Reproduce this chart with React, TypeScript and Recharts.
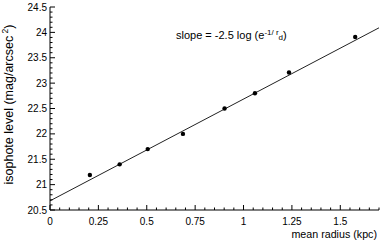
import React from "react";
import {
  ComposedChart,
  Line,
  Scatter,
  XAxis,
  YAxis,
  Label,
} from "recharts";

// measured isophotes
const radius = [0.206, 0.36, 0.505, 0.687, 0.902, 1.059, 1.235, 1.577];
const level = [21.19, 21.4, 21.7, 22.0, 22.5, 22.8, 23.21, 23.91];

// fitted line end points
const fitRadius = [0, 1.7];
const fitLevel = [20.68, 24.09];

const xMajorTicks = [0, 0.25, 0.5, 0.75, 1, 1.25, 1.5];
const yMajorTicks = [20.5, 21, 21.5, 22, 22.5, 23, 23.5, 24, 24.5];

// minor ticks every 0.05 / 0.1
const xTicks = Array.from({ length: 35 }, (_, i) => Math.round(i * 5) / 100);
const yTicks = Array.from({ length: 41 }, (_, i) => (205 + i) / 10);

const FONT = "'Liberation Sans', Arial, Helvetica, sans-serif";

const points = radius.map((x, i) => ({ x, y: level[i] }));
const fit = fitRadius.map((x, i) => ({ x, y: fitLevel[i] }));

const isMajor = (v: number, list: number[]) =>
  list.some((m) => Math.abs(m - v) < 1e-6);

function BottomTick({ x, y, payload }: any) {
  const major = isMajor(payload.value, xMajorTicks);
  return (
    <g>
      <line x1={x} x2={x} y1={y} y2={y - (major ? 5 : 2.5)} stroke="#000" />
      {major && (
        <text x={x} y={y + 15} textAnchor="middle" fontSize={10} fontFamily={FONT} fill="#000">
          {String(payload.value)}
        </text>
      )}
    </g>
  );
}

function TopTick({ x, y, payload }: any) {
  const major = isMajor(payload.value, xMajorTicks);
  return <line x1={x} x2={x} y1={y} y2={y + (major ? 5 : 2.5)} stroke="#000" />;
}

function LeftTick({ x, y, payload }: any) {
  const major = isMajor(payload.value, yMajorTicks);
  return (
    <g>
      <line x1={x} x2={x + (major ? 5 : 2.5)} y1={y} y2={y} stroke="#000" />
      {major && (
        <text x={x - 3} y={y + 3.6} textAnchor="end" fontSize={10} fontFamily={FONT} fill="#000">
          {String(payload.value)}
        </text>
      )}
    </g>
  );
}

function RightTick({ x, y, payload }: any) {
  const major = isMajor(payload.value, yMajorTicks);
  return <line x1={x} x2={x - (major ? 5 : 2.5)} y1={y} y2={y} stroke="#000" />;
}

function YTitle({ viewBox }: any) {
  const cy = viewBox.y + viewBox.height / 2 - 4;
  return (
    <text
      x={12.5}
      y={cy}
      transform={`rotate(-90 12.5 ${cy})`}
      textAnchor="middle"
      fontSize={12.5}
      fontFamily={FONT}
      fill="#000"
    >
      isophote level (mag/arcsec
      <tspan fontSize={8.5} dy={-5}> 2</tspan>
      <tspan dy={5}>)</tspan>
    </text>
  );
}

function Dot({ cx, cy }: any) {
  return <circle cx={cx} cy={cy} r={2.2} fill="#000" />;
}

export default function App() {
  return (
    <div style={{ position: "absolute", left: 0, top: 0, width: 381, height: 240, background: "#fff" }}>
      <ComposedChart
        width={381}
        height={240}
        margin={{ top: 7, right: 2, bottom: 0, left: 0 }}
      >
        <XAxis
          xAxisId="main"
          dataKey="x"
          type="number"
          domain={[0, 1.7]}
          ticks={xTicks}
          interval={0}
          tickLine={false}
          tickSize={0}
          tickMargin={0}
          tick={<BottomTick />}
          axisLine={{ stroke: "#000" }}
          height={30}
        >
          <Label
            value="mean radius (kpc)"
            position="insideBottomRight"
            offset={2}
            fontSize={10.7}
            fontFamily={FONT}
            fill="#000"
          />
        </XAxis>
        <XAxis
          xAxisId="top"
          orientation="top"
          dataKey="x"
          type="number"
          domain={[0, 1.7]}
          ticks={xTicks}
          interval={0}
          tickLine={false}
          tickSize={0}
          tickMargin={0}
          tick={<TopTick />}
          axisLine={{ stroke: "#000" }}
          height={0}
        />
        <YAxis
          yAxisId="main"
          type="number"
          domain={[20.5, 24.5]}
          ticks={yTicks}
          interval={0}
          tickLine={false}
          tickSize={0}
          tickMargin={0}
          tick={<LeftTick />}
          axisLine={{ stroke: "#000" }}
          width={50}
        >
          <Label content={<YTitle />} />
        </YAxis>
        <YAxis
          yAxisId="right"
          orientation="right"
          type="number"
          domain={[20.5, 24.5]}
          ticks={yTicks}
          interval={0}
          tickLine={false}
          tickSize={0}
          tickMargin={0}
          tick={<RightTick />}
          axisLine={{ stroke: "#000" }}
          width={0}
        />
        <Line
          xAxisId="main"
          yAxisId="main"
          data={fit}
          dataKey="y"
          stroke="#222"
          strokeWidth={1}
          dot={false}
          isAnimationActive={false}
        />
        <Scatter
          xAxisId="main"
          yAxisId="main"
          data={points}
          dataKey="y"
          shape={<Dot />}
          isAnimationActive={false}
        />
      </ComposedChart>
      <div
        style={{
          position: "absolute",
          left: 176,
          top: 29,
          fontFamily: FONT,
          fontSize: 11,
          lineHeight: "13px",
          whiteSpace: "nowrap",
          color: "#000",
        }}
      >
        slope = -2.5 log (e
        <span style={{ fontSize: 8, position: "relative", top: -4 }}>-1/ r</span>
        <span style={{ fontSize: 8, position: "relative", top: 1 }}>d</span>)
      </div>
    </div>
  );
}
